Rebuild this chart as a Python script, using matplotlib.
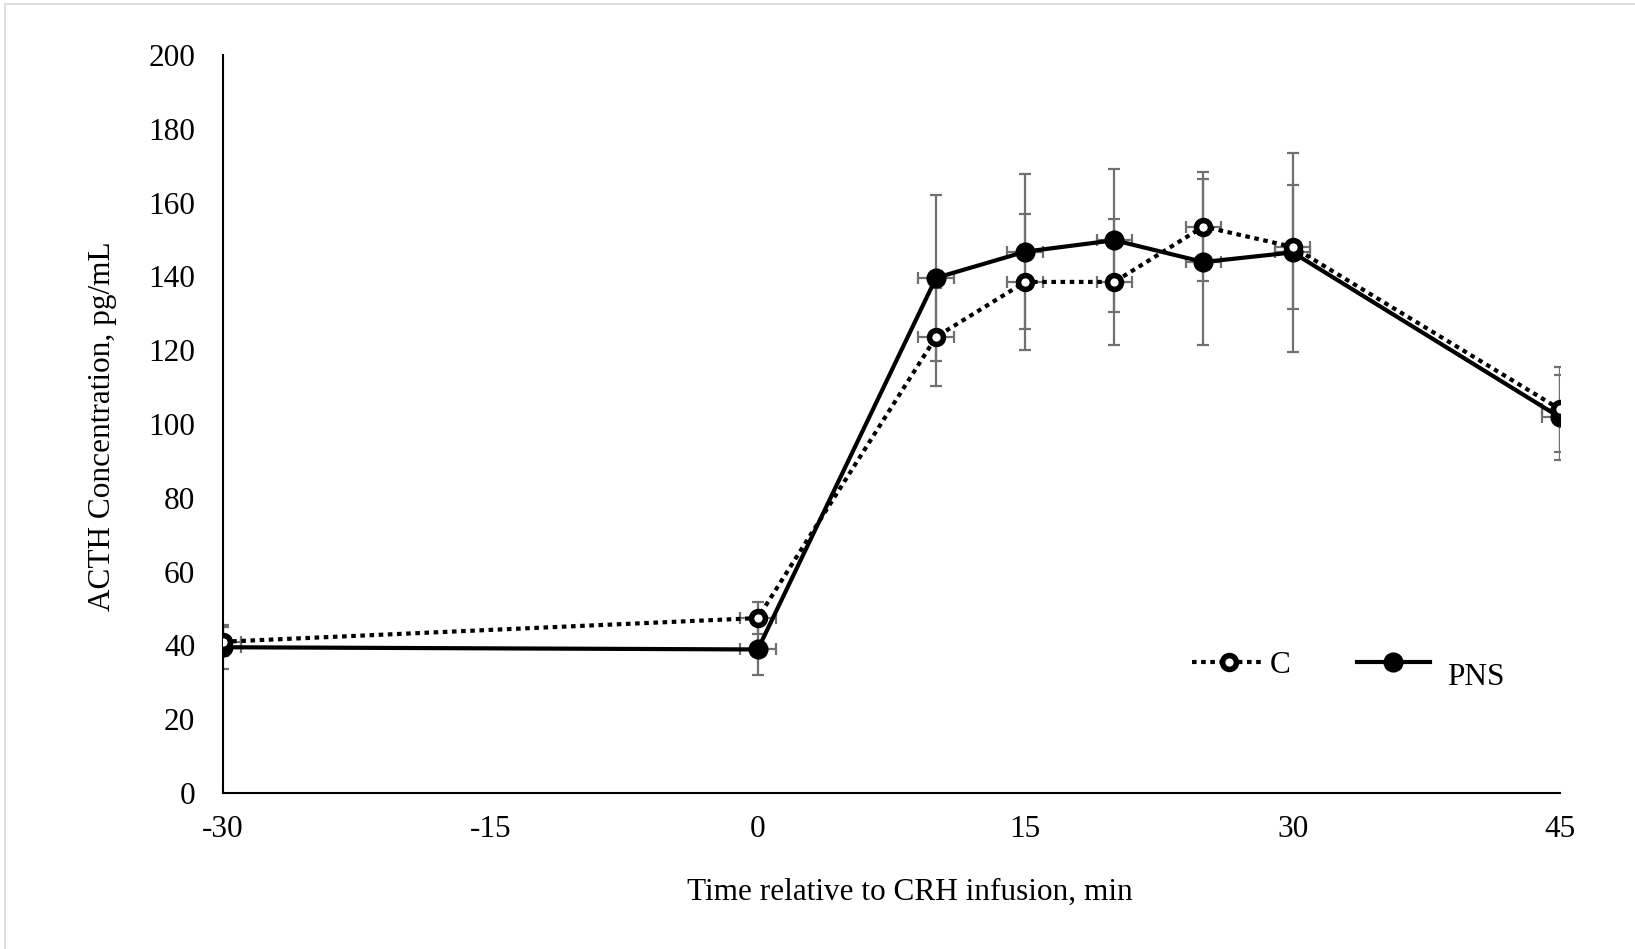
import matplotlib
matplotlib.use("Agg")
import matplotlib.pyplot as plt
from matplotlib.lines import Line2D
from matplotlib.patches import Rectangle

# Data
time_min = [-30, 0, 10, 15, 20, 25, 30, 45]
c_mean = [41.0, 47.4, 123.6, 138.5, 138.5, 153.5, 148.0, 104.0]
c_sem = [4.0, 4.4, 13.3, 18.4, 17.0, 14.7, 16.8, 11.5]
pns_mean = [39.5, 38.9, 139.6, 146.7, 149.8, 143.9, 146.5, 101.8]
pns_sem = [6.0, 7.0, 22.5, 21.0, 19.4, 22.5, 27.0, 11.5]
time_err = [1, 1, 1, 1, 1, 1, 1, 1]
x_ticks = [-30, -15, 0, 15, 30, 45]
y_ticks = [0, 20, 40, 60, 80, 100, 120, 140, 160, 180, 200]

plt.rcParams['font.family'] = ['Liberation Serif', 'DejaVu Serif']
plt.rcParams['axes.unicode_minus'] = False

FS = 22.5
W, H = 1635, 949
fig = plt.figure(figsize=(W / 100, H / 100), dpi=100)
ax = fig.add_axes([223 / W, 1 - 793 / H, (1560 - 223) / W, (793 - 55) / H])

# border
fig.patches.append(Rectangle((5 / W, -0.1), 1.2, 1 - 4 / H + 0.1, transform=fig.transFigure,
                             fill=False, edgecolor='#d9d9d9', linewidth=1.2))

ecol = '#707070'
ax.errorbar(time_min, c_mean, yerr=c_sem, xerr=time_err, fmt='none', ecolor=ecol,
            elinewidth=1.6, capsize=4.3, capthick=1.6, zorder=2)
ax.errorbar(time_min, pns_mean, yerr=pns_sem, xerr=time_err, fmt='none', ecolor=ecol,
            elinewidth=1.6, capsize=4.3, capthick=1.6, zorder=2)

dot = (0, (1.1, 1.1))
ax.plot(time_min, pns_mean, color='black', linewidth=3, marker='o', markersize=13.5,
        markerfacecolor='black', markeredgecolor='black', zorder=3)
ax.plot(time_min, c_mean, color='black', linewidth=3, linestyle=dot, marker='o',
        markersize=10, markerfacecolor='white', markeredgecolor='black',
        markeredgewidth=4, zorder=4)

ax.set_xlim(-30, 45)
ax.set_ylim(0, 200)
ax.set_xticks(x_ticks)
ax.set_yticks(y_ticks)
ax.tick_params(length=0, labelsize=FS)
ax.tick_params(axis='x', pad=16)
ax.tick_params(axis='y', pad=20)
for s in ['top', 'right']:
    ax.spines[s].set_visible(False)
for s in ['left', 'bottom']:
    ax.spines[s].set_linewidth(1.5)
    ax.spines[s].set_color('black')

ax.set_xlabel('Time relative to CRH infusion, min', fontsize=FS, va='center')
ax.xaxis.set_label_coords(0.514, -0.135)
ax.set_ylabel('ACTH Concentration, pg/mL', fontsize=FS, va='center')
ax.yaxis.set_label_coords(-0.0905, 0.497)

h_c = Line2D([], [], color='black', linewidth=3, linestyle=dot, marker='o',
             markersize=10, markerfacecolor='white', markeredgecolor='black', markeredgewidth=4)
h_p = Line2D([], [], color='black', linewidth=3, marker='o', markersize=13.5,
             markerfacecolor='black', markeredgecolor='black')
leg = ax.legend([h_c, h_p], ['C', ''], ncol=2, loc='center left',
                bbox_to_anchor=(0.7248, 0.173), frameon=False, fontsize=FS,
                handlelength=2.35, handletextpad=0.15, columnspacing=2.1,
                borderpad=0, borderaxespad=0)
ax.text(0.9155, 0.156, 'PNS', transform=ax.transAxes, fontsize=FS, va='center', ha='left')

fig.savefig('out.png', dpi=100)
